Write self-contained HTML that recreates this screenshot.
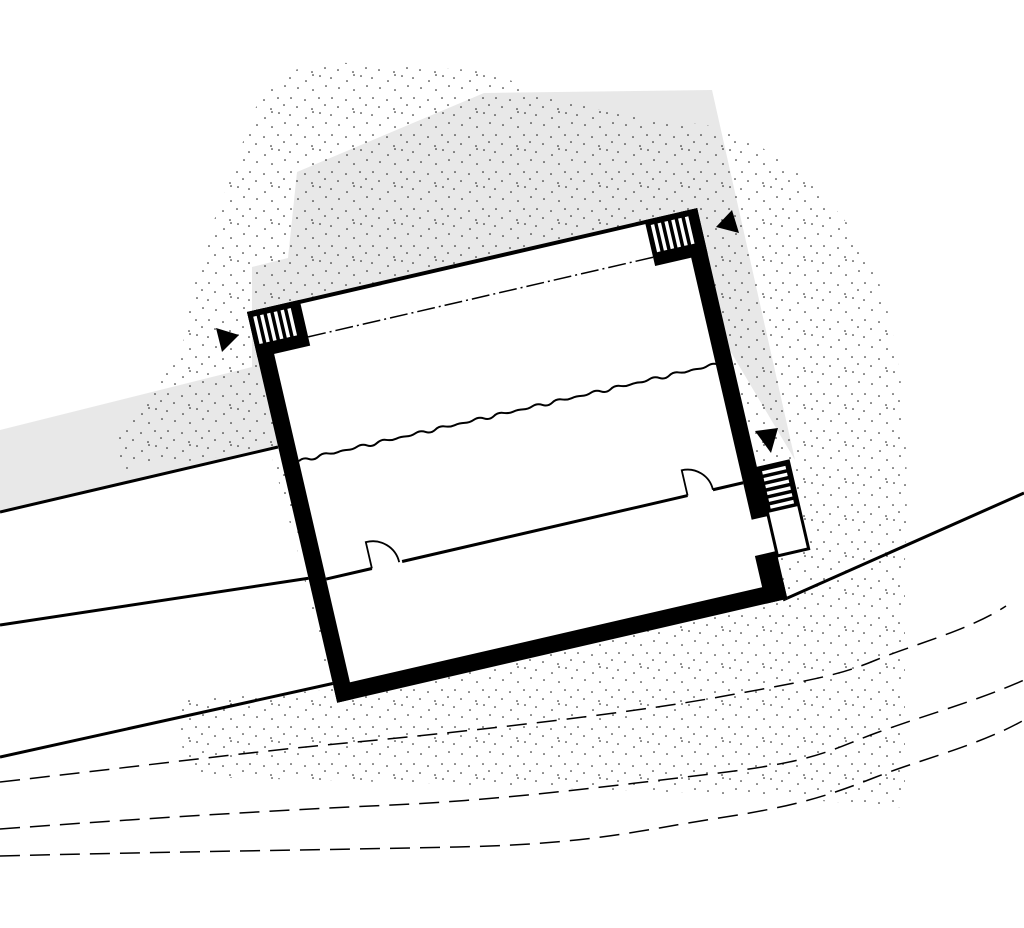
<!DOCTYPE html>
<html><head><meta charset="utf-8"><style>html,body{margin:0;padding:0;background:#fff}svg{display:block}</style></head><body>
<svg width="1024" height="928" viewBox="0 0 1024 928" xmlns="http://www.w3.org/2000/svg">
<defs>
<pattern id="dots" width="41" height="37" patternUnits="userSpaceOnUse">
<g fill="#000">
<circle cx="3" cy="4" r="0.75"/><circle cx="19" cy="7" r="0.75"/><circle cx="33" cy="2" r="0.75"/>
<circle cx="11" cy="14" r="0.75"/><circle cx="26" cy="16" r="0.75"/><circle cx="39" cy="12" r="0.75"/>
<circle cx="4" cy="24" r="0.75"/><circle cx="18" cy="26" r="0.75"/><circle cx="32" cy="24" r="0.75"/>
<circle cx="10" cy="33" r="0.75"/><circle cx="25" cy="35" r="0.75"/><circle cx="38" cy="31" r="0.75"/>
<circle cx="26" cy="1" r="0.75"/>
</g>
</pattern>
</defs>
<polygon points="0,430 252,367 252,267 288,258 297,172 484,93 712,90 795,460 700,300 278,447 0,512" fill="#e8e8e8"/>
<path d="M248,127 C260,90 281,67 330,62 L470,70 C520,80 560,100 600,110 L719,127 C780,150 840,200 870,260 C905,340 910,450 905,560 L905,808 L752,795 L392,782 L196,777 C178,750 176,720 185,700 L330,690 L300,560 L270,450 L118,470 C110,440 130,400 180,360 C190,300 200,250 230,180 Z" fill="url(#dots)"/>
<g stroke="#000" stroke-width="3" fill="none">
<line x1="0" y1="512" x2="278" y2="447"/>
<line x1="0" y1="625" x2="330" y2="575"/>
<line x1="0" y1="757" x2="335" y2="683"/>
<line x1="783" y1="600" x2="1024" y2="493"/>
</g>
<g stroke="#000" stroke-width="1.5" fill="none" stroke-dasharray="20 10">
<path d="M0,782 C150,765 250,752 346,743 S620,715 719,697 S840,675 876,660 S970,630 1006,606"/>
<path d="M0,829 C150,818 280,810 392,805 S620,785 719,773 S830,750 876,733 S980,700 1024,680"/>
<path d="M0,856 C150,852 320,850 457,847 S640,830 719,818 S830,795 876,777 S980,745 1024,720"/>
</g>
<polygon points="216,328 239,335 222,352" fill="#000"/>
<polygon points="716,227 732,210 739,233" fill="#000"/>
<polygon points="755,431 778,428 771,453" fill="#000"/>
<g transform="translate(247,312) rotate(-13)">
<rect x="0" y="0" width="462" height="401" fill="#fff"/>
<rect x="462" y="267" width="32" height="90" fill="#fff" stroke="#000" stroke-width="3"/>
<rect x="462" y="267" width="32" height="46" fill="#000"/>
<g fill="#fff">
<rect x="466" y="271" width="24" height="3.5"/><rect x="466" y="278" width="24" height="3.5"/><rect x="466" y="285" width="24" height="3.5"/><rect x="466" y="292" width="24" height="3.5"/><rect x="466" y="299" width="24" height="3.5"/><rect x="466" y="306" width="24" height="3.5"/>
</g>
<g fill="#000">
<rect x="0" y="0" width="462" height="4"/>
<rect x="0" y="0" width="17" height="401"/>
<rect x="0" y="384" width="462" height="17"/>
<rect x="445" y="0" width="17" height="316"/>
<rect x="440" y="352" width="22" height="49"/>
<rect x="0" y="0" width="54" height="47"/>
<rect x="408" y="0" width="54" height="47"/>
</g>
<g fill="#fff">
<rect x="5" y="6" width="3.5" height="28"/><rect x="12" y="6" width="3.5" height="28"/><rect x="19" y="6" width="3.5" height="28"/><rect x="26" y="6" width="3.5" height="28"/><rect x="33" y="6" width="3.5" height="28"/><rect x="40" y="6" width="3.5" height="28"/>
<rect x="413" y="6" width="3.5" height="28"/><rect x="420" y="6" width="3.5" height="28"/><rect x="427" y="6" width="3.5" height="28"/><rect x="434" y="6" width="3.5" height="28"/><rect x="441" y="6" width="3.5" height="28"/><rect x="448" y="6" width="3.5" height="28"/>
</g>
<line x1="54" y1="38" x2="408" y2="38" stroke="#000" stroke-width="1.5" stroke-dasharray="18 4 2 4"/>
<path d="M17,157 q5,-3 10,0 t10,0 t10,-1 t10,1 t10,0 t10,-1 t10,1 t10,0 t10,-1 t10,1 t10,0 t10,-1 t10,1 t10,0 t10,-1 t10,1 t10,0 t10,-1 t10,1 t10,0 t10,-1 t10,1 t10,0 t10,-1 t10,1 t10,0 t10,-1 t10,1 t10,0 t10,-1 t10,1 t10,0 t10,-1 t10,1 t10,0 t10,-1 t10,1 t10,0 t10,-1 t10,1 t10,0 t10,-1 t10,1 t8,0" fill="none" stroke="#000" stroke-width="2"/>
<g stroke="#000" stroke-width="3" fill="none">
<line x1="17" y1="278" x2="64" y2="278"/>
<line x1="95" y1="278" x2="388" y2="278"/>
<line x1="414" y1="278" x2="445" y2="278"/>
</g>
<g stroke="#000" stroke-width="1.8" fill="none">
<path d="M64,278 L64,251 A27,27 0 0 1 92,278"/>
<path d="M388,278 L388,252 A26,26 0 0 1 414,278"/>
</g>
</g>
</svg>
</body></html>
